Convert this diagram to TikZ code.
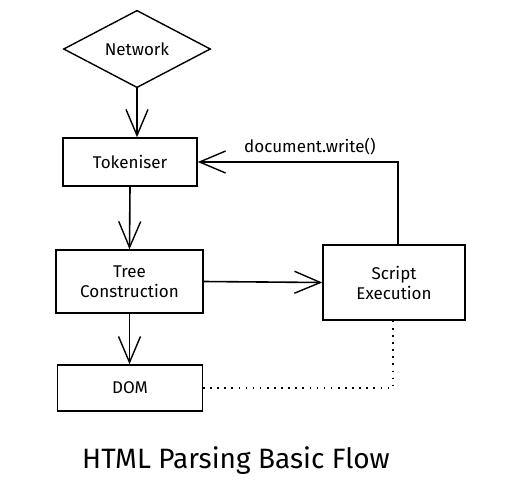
\documentclass[tikz,border=0pt]{standalone}
\usepackage{fontspec}
\setmainfont{Fira Sans}
\usetikzlibrary{arrows.meta,shapes.geometric}
\begin{document}
\begin{tikzpicture}[x=1pt,y=-1pt,
  box/.style={draw=black,line width=1.6pt,rectangle,inner sep=0pt,align=center,font=\fontsize{17}{20}\selectfont},
  dia/.style={draw=black,line width=1.4pt,diamond,inner sep=0pt,font=\fontsize{17}{20}\selectfont},
  arr/.style={line width=1.6pt,-{Straight Barb[length=26pt,width=22pt,line width=1.4pt]}},
  dotline/.style={line width=1.6pt,dash pattern=on 1.6pt off 5.5pt}]
\useasboundingbox (0,0) rectangle (505,501);
\node[dia,minimum width=147pt,minimum height=56pt] (net) at (137,49) {Network};
\node[box,minimum width=134pt,minimum height=48pt] (tok) at (130,162) {Tokeniser};
\node[box,minimum width=147pt,minimum height=63pt] (tree) at (129.5,281.5) {Tree\\Construction};
\node[box,minimum width=145pt,minimum height=46pt] (dom) at (130,388) {DOM};
\node[box,minimum width=142pt,minimum height=75pt] (scr) at (394,282.5) {Script\\Execution};
\coordinate (up) at ([xshift=4pt]scr.north);
\coordinate (dn) at ([xshift=-1pt]scr.south);
\draw[arr] (net.south) -- (net.south |- tok.north);
\draw[arr] (tok.south) -- (tree.north);
\draw[arr] (tree.south) -- (tree.south |- dom.north);
\draw[arr] (tree.east) -- (scr.west);
\draw[arr] (up) |- node[pos=0.72,above=3pt,font=\fontsize{17}{20}\selectfont] (lbl) {document.write()} (tok.east);
\draw[dotline] (dn) |- (dom.east);
\node[font=\fontsize{28}{32}\selectfont] (title) at (236,461) {HTML Parsing Basic Flow};
\end{tikzpicture}
\end{document}
